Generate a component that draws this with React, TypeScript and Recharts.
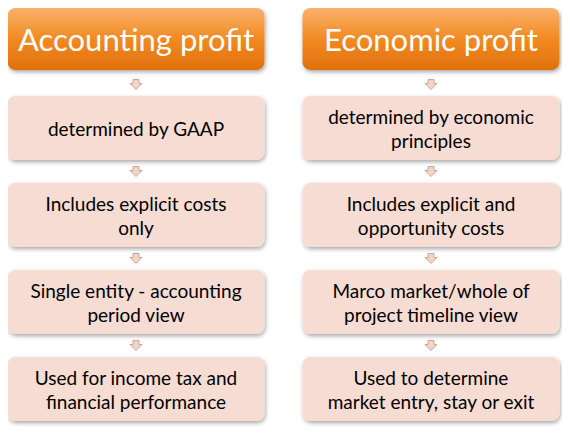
import { ScatterChart, Scatter, XAxis, YAxis } from 'recharts';

const headers = ['Accounting profit', 'Economic profit'];
const leftItems = [
  'determined by GAAP',
  'Includes explicit costs|only',
  'Single entity - accounting|period view',
  'Used for income tax and|financial performance',
];
const rightItems = [
  'determined by economic|principles',
  'Includes explicit and|opportunity costs',
  'Marco market/whole of|project timeline view',
  'Used to determine|market entry, stay or exit',
];

const boxes = [
  ...headers.map((h, col) => ({ col, row: 0, text: h, head: true })),
  ...leftItems.map((t, i) => ({ col: 0, row: i + 1, text: t, head: false })),
  ...rightItems.map((t, i) => ({ col: 1, row: i + 1, text: t, head: false })),
];
const arrows = [0, 1].flatMap((col) => [0, 1, 2, 3].map((r) => ({ col, row: r + 0.5 })));

const W = 257;

function Box(props: any) {
  const { cx, cy, payload } = props;
  const h = payload.head ? 62 : 64;
  const y0 = payload.head ? cy - h / 2 - 2 : cy - h / 2;
  const lines: string[] = payload.text.split('|');
  const fs = payload.head ? 31 : 19;
  const lh = 24;
  const start = y0 + h / 2 - ((lines.length - 1) * lh) / 2;
  return (
    <g>
      <rect x={cx - W / 2} y={y0} width={W} height={h} rx={8}
        fill={payload.head ? 'url(#hg)' : '#f6dcd2'} filter="url(#sh)" />
      {lines.map((l, i) => (
        <text key={i} x={cx} y={start + i * lh} textAnchor="middle" dominantBaseline="central"
          fontFamily="Lato, 'Open Sans', sans-serif" fontSize={fs}
          fill={payload.head ? '#ffffff' : '#000000'}>{l}</text>
      ))}
    </g>
  );
}

function Arrow(props: any) {
  const { cx, cy } = props;
  return (
    <path d={`M${cx - 3} ${cy - 5} h6 v4 h3 l-6 6 l-6 -6 h3 z`}
      fill="#f3d5c8" stroke="#c9a899" strokeWidth={1} />
  );
}

export default function App() {
  return (
    <ScatterChart width={570} height={434} margin={{ top: 0, right: 0, bottom: 0, left: 0 }}
      style={{ marginLeft: -8, marginTop: -8 }}>
      <defs>
        <linearGradient id="hg" x1="0" y1="0" x2="0" y2="1">
          <stop offset="0" stopColor="#f9b16a" />
          <stop offset="0.5" stopColor="#f28a22" />
          <stop offset="1" stopColor="#e0700c" />
        </linearGradient>
        <filter id="sh" x="-10%" y="-20%" width="120%" height="150%">
          <feDropShadow dx="1" dy="2" stdDeviation="2" floodColor="#000" floodOpacity="0.35" />
        </filter>
      </defs>
      <XAxis type="number" dataKey="col" domain={[-136 / 295, 434 / 295]} hide />
      <YAxis type="number" dataKey="row" domain={[-41 / 87, 393 / 87]} reversed hide />
      <Scatter data={boxes} shape={<Box />} isAnimationActive={false} />
      <Scatter data={arrows} shape={<Arrow />} isAnimationActive={false} />
    </ScatterChart>
  );
}
